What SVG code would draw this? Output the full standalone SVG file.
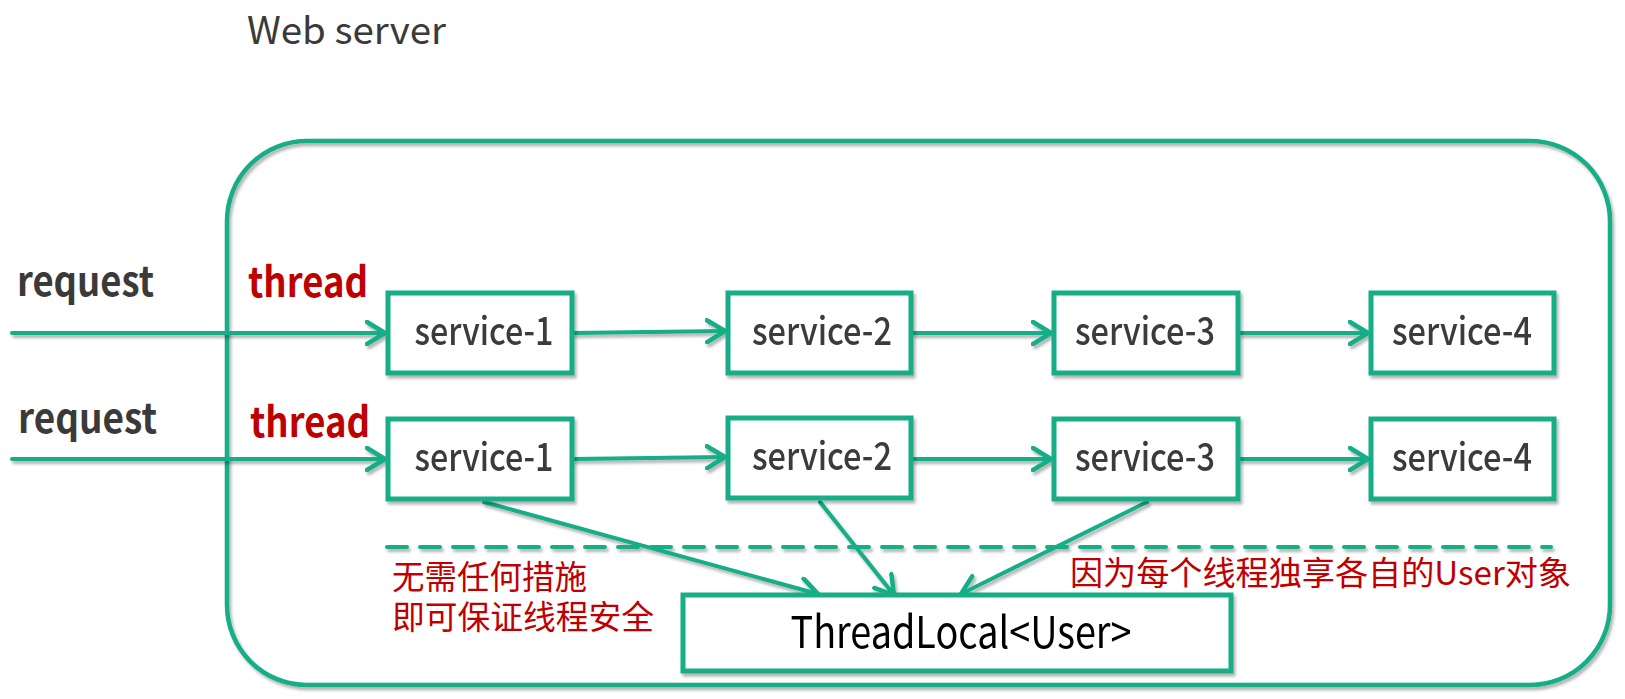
<svg xmlns="http://www.w3.org/2000/svg" width="1625" height="699" viewBox="0 0 1625 699">
<style>
text{font-family:'Noto Sans CJK SC','Noto Sans',sans-serif}
.box{fill:#fff;stroke:#12ad87;stroke-width:5}
.ln{fill:none;stroke:#12ad87;stroke-width:4;stroke-linecap:round}
.svc{font-size:39px;font-weight:500;fill:#3a3a3a;text-anchor:middle}
.req{font-size:41px;font-weight:bold;fill:#3a3a3a}
.thr{font-size:41px;font-weight:bold;fill:#c00000}
.note{font-size:33px;fill:#c00000}
</style>
<defs>
<filter id="sh" x="-5%" y="-5%" width="110%" height="120%">
<feDropShadow dx="2" dy="3" stdDeviation="1.5" flood-color="#000" flood-opacity="0.3"/>
</filter>
<marker id="ah" viewBox="0 0 22 26" refX="20" refY="13" markerWidth="22" markerHeight="26" markerUnits="userSpaceOnUse" orient="auto">
<path d="M2,2 L20,13 L2,24" fill="none" stroke="#12ad87" stroke-width="4.5" stroke-linecap="round" stroke-linejoin="round"/>
</marker>
</defs>
<rect width="1625" height="699" fill="#fff"/>
<text id="title" x="247" y="44" textLength="199" lengthAdjust="spacingAndGlyphs" style="font-size:37.5px;font-weight:400;fill:#3a3a3a">Web server</text>
<g id="webserver" filter="url(#sh)">
<rect x="227" y="141" width="1383" height="544" rx="80" ry="80" fill="none" stroke="#12ad87" stroke-width="4.5"/>
</g>
<g id="labels">
<text class="req" x="17" y="296" textLength="137" lengthAdjust="spacingAndGlyphs">request</text>
<text class="req" x="18" y="433" textLength="139" lengthAdjust="spacingAndGlyphs">request</text>
<text class="thr" x="248" y="297" textLength="120" lengthAdjust="spacingAndGlyphs">thread</text>
<text class="thr" x="250" y="437" textLength="120" lengthAdjust="spacingAndGlyphs">thread</text>
</g>
<g id="connectors" filter="url(#sh)">
<line class="ln" x1="12" y1="333" x2="385" y2="333" marker-end="url(#ah)"/>
<line class="ln" x1="12" y1="459" x2="385" y2="459" marker-end="url(#ah)"/>
<line class="ln" x1="574" y1="333" x2="725" y2="331" marker-end="url(#ah)"/>
<line class="ln" x1="574" y1="459" x2="725" y2="457" marker-end="url(#ah)"/>
<line class="ln" x1="913" y1="333" x2="1051" y2="333" marker-end="url(#ah)"/>
<line class="ln" x1="913" y1="459" x2="1051" y2="459" marker-end="url(#ah)"/>
<line class="ln" x1="1240" y1="333" x2="1368" y2="333" marker-end="url(#ah)"/>
<line class="ln" x1="1240" y1="459" x2="1368" y2="459" marker-end="url(#ah)"/>
<line class="ln" x1="387" y1="547" x2="1551" y2="547" stroke-dasharray="20 13" stroke-linecap="butt"/>
<line class="ln" x1="484" y1="502" x2="818" y2="594" marker-end="url(#ah)"/>
<line class="ln" x1="820" y1="502" x2="894" y2="595" marker-end="url(#ah)"/>
<line class="ln" x1="1147" y1="502" x2="961" y2="594" marker-end="url(#ah)"/>
</g>
<g id="r1s1" filter="url(#sh)"><rect class="box" x="388" y="293" width="184" height="80"/><text class="svc" x="484" y="345" textLength="139" lengthAdjust="spacingAndGlyphs">service-1</text></g>
<g id="r1s2" filter="url(#sh)"><rect class="box" x="728" y="293" width="183" height="80"/><text class="svc" x="822" y="345" textLength="140" lengthAdjust="spacingAndGlyphs">service-2</text></g>
<g id="r1s3" filter="url(#sh)"><rect class="box" x="1054" y="293" width="184" height="80"/><text class="svc" x="1145" y="345" textLength="140" lengthAdjust="spacingAndGlyphs">service-3</text></g>
<g id="r1s4" filter="url(#sh)"><rect class="box" x="1371" y="293" width="183" height="80"/><text class="svc" x="1462" y="345" textLength="140" lengthAdjust="spacingAndGlyphs">service-4</text></g>
<g id="r2s1" filter="url(#sh)"><rect class="box" x="388" y="419" width="184" height="80"/><text class="svc" x="484" y="471" textLength="139" lengthAdjust="spacingAndGlyphs">service-1</text></g>
<g id="r2s2" filter="url(#sh)"><rect class="box" x="728" y="418" width="183" height="80"/><text class="svc" x="822" y="470" textLength="140" lengthAdjust="spacingAndGlyphs">service-2</text></g>
<g id="r2s3" filter="url(#sh)"><rect class="box" x="1054" y="419" width="184" height="80"/><text class="svc" x="1145" y="471" textLength="140" lengthAdjust="spacingAndGlyphs">service-3</text></g>
<g id="r2s4" filter="url(#sh)"><rect class="box" x="1371" y="419" width="183" height="80"/><text class="svc" x="1462" y="471" textLength="140" lengthAdjust="spacingAndGlyphs">service-4</text></g>
<g id="threadlocal" filter="url(#sh)"><rect class="box" x="683" y="595" width="548" height="76"/><text x="961" y="648" text-anchor="middle" textLength="341" lengthAdjust="spacingAndGlyphs" style="font-size:44px;fill:#000">ThreadLocal&lt;User&gt;</text></g>
<g id="notes">
<text class="note" x="392" y="589" textLength="195" lengthAdjust="spacingAndGlyphs">无需任何措施</text>
<text class="note" x="392" y="629" textLength="262" lengthAdjust="spacingAndGlyphs">即可保证线程安全</text>
<text class="note" x="1070" y="585" textLength="501" lengthAdjust="spacingAndGlyphs">因为每个线程独享各自的User对象</text>
</g>
</svg>
